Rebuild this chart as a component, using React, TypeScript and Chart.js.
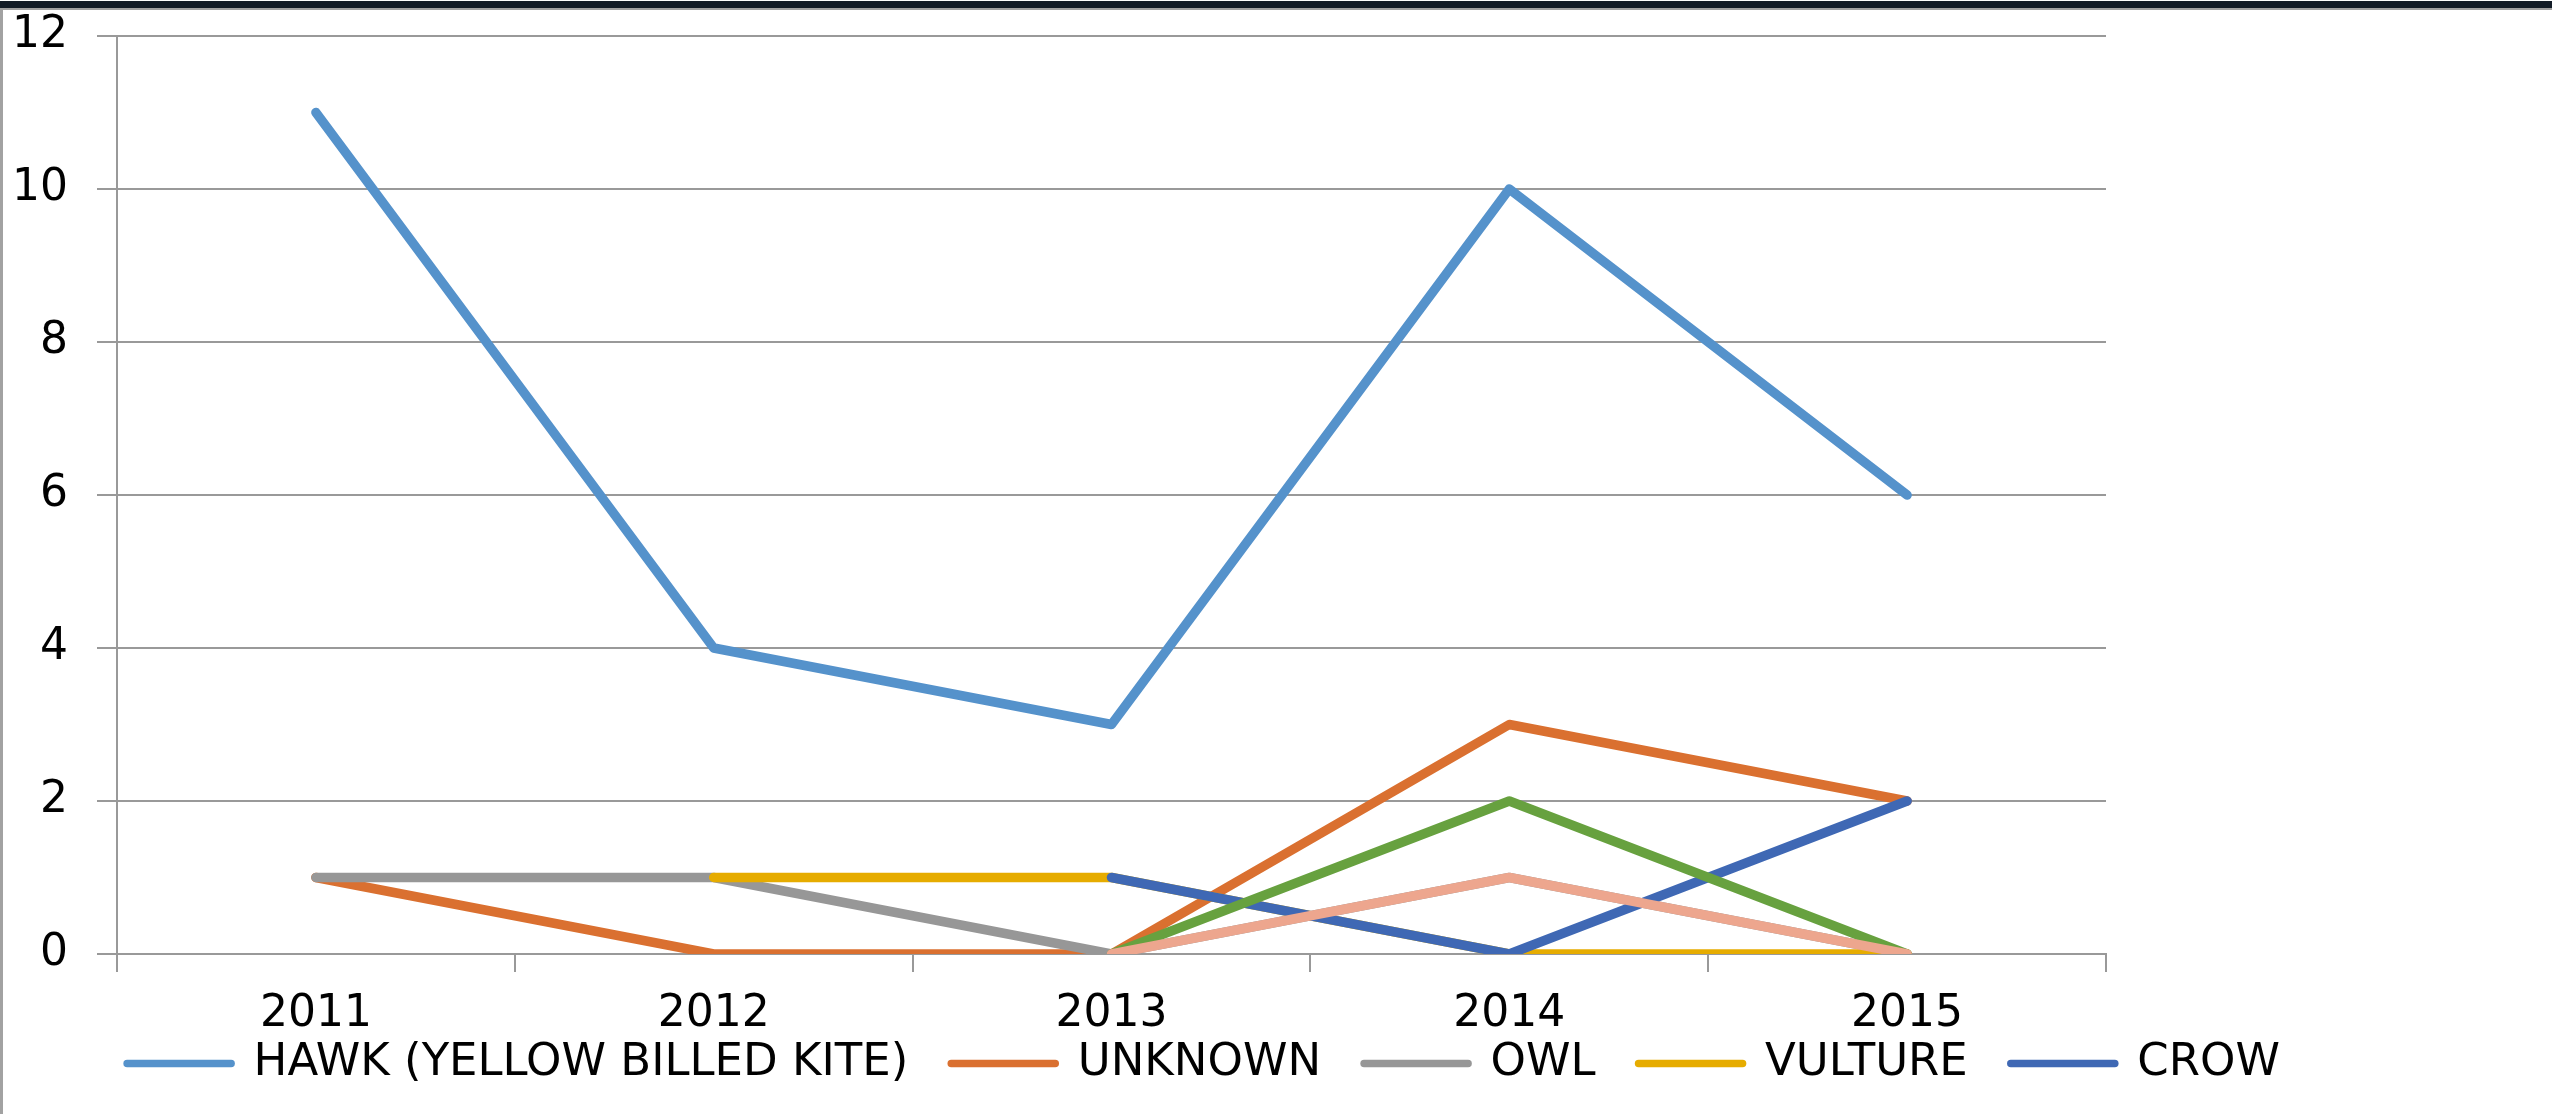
import React, { useEffect, useRef } from 'react';
import { Chart, registerables } from 'chart.js';

Chart.register(...registerables);

// ---- data ----
const YEARS = ['2011', '2012', '2013', '2014', '2015'];
const SERIES_NAMES = [
  'HAWK (YELLOW BILLED KITE)',
  'UNKNOWN',
  'OWL',
  'VULTURE',
  'CROW',
  'SERIES 6',
  'SERIES 7',
];
const HAWK = [11, 4, 3, 10, 6];
const UNKNOWN = [1, 0, 0, 3, 2];
const OWL = [1, 1, 0, 1, 0];
const VULTURE = [null, 1, 1, 0, 0];
const CROW = [null, null, 1, 0, 2];
const SERIES6 = [null, null, 0, 2, 0];
const SERIES7 = [null, null, 0, 1, 0];
const Y_TICKS = [0, 2, 4, 6, 8, 10, 12];
const LEGEND_COUNT = 5;

// ---- styles ----
const COLORS = ['#5592CB', '#DA7030', '#979797', '#E6AC00', '#3F68B4', '#67A13F', '#EDA68E'];
const GRID = '#999999';
const FONT = "'DejaVu Sans', sans-serif";
const LINE_W = 9.5;
const LEGEND_LINE_W = 7.5;

const SERIES = [HAWK, UNKNOWN, OWL, VULTURE, CROW, SERIES6, SERIES7];

// lets the x-axis labels draw below the (deliberately short) x-axis box
const xLabelRoom = {
  id: 'xLabelRoom',
  afterLayout(c: any) {
    const s = c.scales.x;
    if (s) s.bottom = s.top + 110;
  },
};

export default function App() {
  const ref = useRef<HTMLCanvasElement | null>(null);

  useEffect(() => {
    const canvas = ref.current;
    if (!canvas) return;
    Chart.defaults.font.family = FONT;
    const chart = new Chart(canvas, {
      type: 'line',
      data: {
        labels: YEARS,
        datasets: SERIES.map((d, i) => ({
          label: SERIES_NAMES[i],
          data: d,
          borderColor: COLORS[i],
          backgroundColor: COLORS[i],
          borderWidth: LINE_W,
          pointRadius: 0,
          pointHoverRadius: 0,
          tension: 0,
          fill: false,
          spanGaps: false,
          borderCapStyle: 'round',
          borderJoinStyle: 'round',
          order: SERIES.length - i,
        })),
      },
      plugins: [xLabelRoom],
      options: {
        responsive: false,
        maintainAspectRatio: false,
        animation: false,
        devicePixelRatio: 1,
        events: [],
        layout: { padding: { left: 0, top: 36, right: 145, bottom: 18 } },
        plugins: {
          tooltip: { enabled: false },
          title: { display: false },
          legend: {
            display: true,
            position: 'bottom',
            align: 'center',
            labels: {
              usePointStyle: true,
              pointStyle: 'line',
              pointStyleWidth: 104,
              padding: 43,
              color: '#000',
              font: { size: 45, family: FONT },
              generateLabels: () =>
                SERIES_NAMES.slice(0, LEGEND_COUNT).map((name, i) => ({
                  text: name,
                  fillStyle: COLORS[i],
                  strokeStyle: COLORS[i],
                  lineWidth: LEGEND_LINE_W,
                  lineCap: 'round',
                  pointStyle: 'line',
                  hidden: false,
                  datasetIndex: i,
                  fontColor: '#000',
                })),
            },
          },
        },
        scales: {
          x: {
            offset: true,
            grid: {
              offset: true,
              drawOnChartArea: false,
              drawTicks: true,
              tickLength: 18,
              color: GRID,
              lineWidth: 2,
            },
            border: { display: true, color: GRID, width: 2 },
            ticks: {
              padding: 16,
              color: '#000',
              font: { size: 44, family: FONT },
              maxRotation: 0,
              autoSkip: false,
            },
            afterFit: (s: any) => {
              s.height = 44;
              s.paddingLeft = 0;
              s.paddingRight = 0;
            },
          },
          y: {
            min: Y_TICKS[0],
            max: Y_TICKS[Y_TICKS.length - 1],
            ticks: {
              stepSize: Y_TICKS[1] - Y_TICKS[0],
              padding: 29,
              color: '#000',
              font: { size: 44, family: FONT },
            },
            grid: { color: GRID, lineWidth: 2, tickLength: 20, drawTicks: true },
            border: { display: true, color: GRID, width: 2 },
            afterFit: (s: any) => {
              s.width = 117;
              s.paddingTop = 0;
              s.paddingBottom = 0;
            },
          },
          yPad: {
            type: 'linear',
            position: 'right',
            display: true,
            grid: { display: false },
            ticks: { display: false },
            border: { display: false },
            afterFit: (s: any) => {
              s.width = 301;
              s.paddingTop = 0;
              s.paddingBottom = 0;
            },
          },
        },
      } as any,
    });
    return () => chart.destroy();
  }, []);

  return (
    <div
      style={{
        position: 'absolute',
        left: 0,
        top: 0,
        width: 2552,
        height: 1114,
        background: '#fff',
        overflow: 'hidden',
      }}
    >
      <canvas
        ref={ref}
        width={2552}
        height={1114}
        style={{ position: 'absolute', left: 0, top: 0, display: 'block' }}
      />
      <div style={{ position: 'absolute', left: 0, top: 1, width: 2552, height: 7, background: '#131c27' }} />
      <div style={{ position: 'absolute', left: 0, top: 8, width: 2552, height: 2, background: '#a2a2a2' }} />
      <div style={{ position: 'absolute', left: 0, top: 10, width: 3, height: 1104, background: '#a2a2a2' }} />
    </div>
  );
}
